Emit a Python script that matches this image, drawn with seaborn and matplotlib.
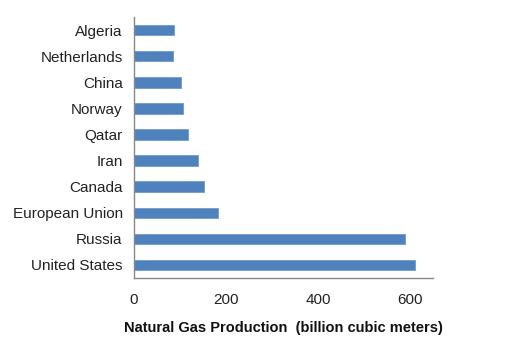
import pandas as pd
import seaborn as sns
import matplotlib
from matplotlib import pyplot as plt
from matplotlib.ticker import FixedLocator

matplotlib.use('Agg')

countries = ["Algeria", "Netherlands", "China", "Norway", "Qatar", "Iran",
             "Canada", "European Union", "Russia", "United States"]
production = [87, 86, 103, 106, 117, 140, 153, 183, 589, 610]

df = pd.DataFrame({"Country": countries, "Production": production})

sns.set_style("white")
plt.rcParams['font.family'] = ['Liberation Sans', 'DejaVu Sans']

fig = plt.figure(figsize=(5.07, 3.56), dpi=100)
ax = fig.add_axes([0.264, 0.219, 0.59, 0.733])

sns.barplot(data=df, x="Production", y="Country", order=countries, color="#4F81BD",
            width=0.4, edgecolor="#6F9BD1", linewidth=0.6, saturation=1, ax=ax)

ax.set_xlim(0, 650)
ax.set_ylim(len(countries) - 0.5, -0.5)
ax.set_xticks([0, 200, 400, 600])
ax.yaxis.set_minor_locator(FixedLocator([i - 0.5 for i in range(len(countries) + 1)]))
ax.tick_params(axis="y", which="major", length=0, labelsize=11, pad=8, colors="#222222")
ax.tick_params(axis="y", which="minor", length=5, color="#888888", direction="out")
ax.tick_params(axis="x", length=5, color="#888888", direction="out", labelsize=11,
               pad=6, labelcolor="#222222")

for side in ["top", "right"]:
    ax.spines[side].set_visible(False)
for side in ["left", "bottom"]:
    ax.spines[side].set_color("#888888")
    ax.spines[side].set_linewidth(1)

ax.set_ylabel("")
ax.set_xlabel("Natural Gas Production  (billion cubic meters)", fontsize=10.5,
              fontweight="bold", labelpad=10, color="#111111")

plt.savefig("out.png", dpi=100)
